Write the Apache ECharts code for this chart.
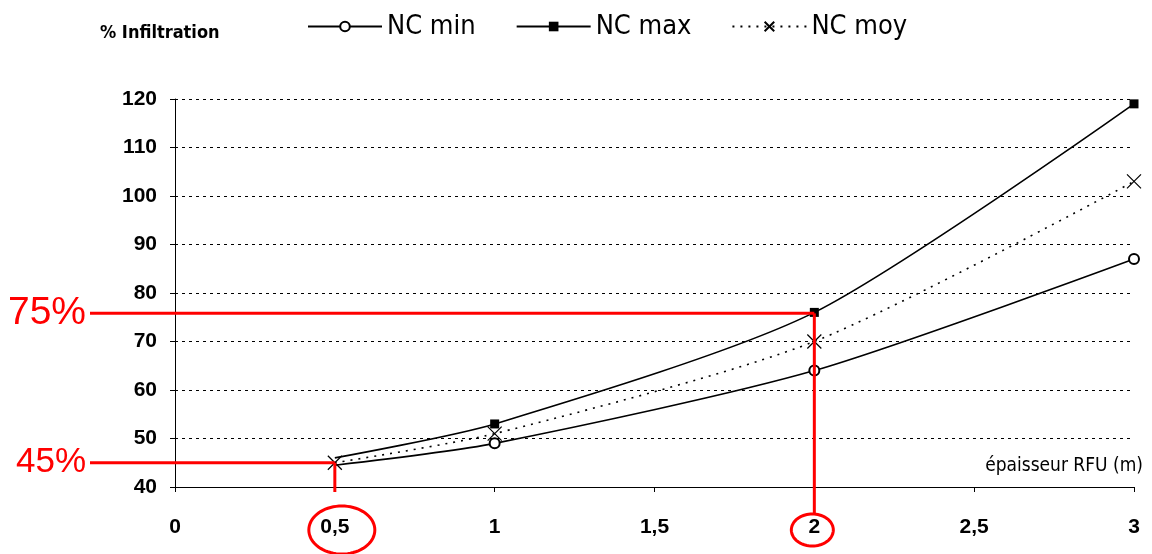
<!DOCTYPE html>
<html>
<head>
<meta charset="utf-8">
<script src="https://cdn.jsdelivr.net/npm/echarts@6/dist/echarts.min.js"></script>
<style>
html,body{margin:0;padding:0;background:#fff;}
#c{width:1152px;height:554px;}
</style>
</head>
<body>
<div id="c"></div>
<script>
// ---- data ----
const xValues = [0.5, 1, 2, 3];
const ncMin = [44.5, 49, 64, 87];
const ncMax = [46, 53, 76, 119];
const ncMoy = [45, 51, 70, 103];
const seriesNames = ['NC min', 'NC max', 'NC moy'];
const yTicks = [40, 50, 60, 70, 80, 90, 100, 110, 120];
const xTicks = [0, 0.5, 1, 1.5, 2, 2.5, 3];
const annotX = [0.5, 2];
const annotY = [45, 75.8];
const annotLabels = ['45%', '75%'];
const yTitle = '% Infiltration';
const xTitle = 'épaisseur RFU (m)';

const FONT = '"DejaVu Sans Condensed","DejaVu Sans",sans-serif';
const chart = echarts.init(document.getElementById('c'));
const toPairs = arr => xValues.map((x, i) => [x, arr[i]]);
// in the reference the first point's marker of NC min / NC max is hidden under the NC moy cross
const toPairsHideFirst = arr => xValues.map((x, i) => (i === 0 ? { value: [x, arr[i]], symbol: 'none' } : [x, arr[i]]));

chart.setOption({
  animation: false,
  backgroundColor: '#fff',
  grid: { left: 175, right: 18, top: 99, bottom: 67, containLabel: false },
  title: [
    { text: yTitle, left: 95, top: 19, textStyle: { fontFamily: FONT, fontSize: 18, fontWeight: 'bold', color: '#000' } },
    { text: xTitle, right: 4, top: 452, textStyle: { fontFamily: FONT, fontSize: 19, fontWeight: 'normal', color: '#000' } }
  ],
  legend: {
    left: 302, top: 8, itemWidth: 74, itemHeight: 12, itemGap: 40,
    textStyle: { fontFamily: FONT, fontSize: 27, color: '#000' },
    data: seriesNames
  },
  xAxis: {
    type: 'value', min: 0, max: 3, interval: 0.5,
    axisLine: { show: true, lineStyle: { color: '#000', width: 1 } },
    axisTick: { show: true, length: 5, lineStyle: { color: '#000' } },
    splitLine: { show: false },
    axisLabel: {
      margin: 30, color: '#000', fontFamily: '"Liberation Sans",Arial,sans-serif', fontSize: 21, fontWeight: 'bold',
      formatter: v => String(v).replace('.', ',')
    }
  },
  yAxis: {
    type: 'value', min: 40, max: 120, interval: 10,
    axisLine: { show: true, lineStyle: { color: '#000', width: 1 } },
    axisTick: { show: true, length: 5, lineStyle: { color: '#000' } },
    splitLine: { show: true, lineStyle: { color: '#000', type: [3, 4], width: 1 } },
    axisLabel: { margin: 18, color: '#000', fontFamily: '"Liberation Sans",Arial,sans-serif', fontSize: 21, fontWeight: 'bold' }
  },
  series: [
    {
      name: seriesNames[0], type: 'line', smooth: 0.25, data: toPairsHideFirst(ncMin),
      symbol: 'emptyCircle', symbolSize: 10,
      lineStyle: { color: '#000', width: 1.6 },
      itemStyle: { color: '#000', borderColor: '#000', borderWidth: 1 }
    },
    {
      name: seriesNames[1], type: 'line', smooth: 0.25, data: toPairsHideFirst(ncMax),
      symbol: 'rect', symbolSize: 9,
      lineStyle: { color: '#000', width: 1.6 },
      itemStyle: { color: '#000' }
    },
    {
      name: seriesNames[2], type: 'line', smooth: 0.25, data: toPairs(ncMoy),
      symbol: 'path://M0,0L10,10M10,0L0,10', symbolSize: 14,
      lineStyle: { color: '#000', width: 1.6, type: [2, 6] },
      itemStyle: { color: 'rgba(0,0,0,0)', borderColor: '#000', borderWidth: 1.2 },
      z: 3
    }
  ]
});

// ---- red annotations, positioned through the chart's own scales ----
function ellipsePts(cx, cy, rx, ry) {
  const pts = [];
  for (let k = 0; k < 72; k++) {
    const a = k / 72 * Math.PI * 2;
    pts.push([cx + rx * Math.cos(a), cy + ry * Math.sin(a)]);
  }
  return pts;
}
const RED = '#ff0000';
const graphics = [];
const ellR = [[33, 24], [21, 16]];
const fontSizes = [35, 39];
annotX.forEach((xv, i) => {
  const p = chart.convertToPixel({ gridIndex: 0 }, [xv, annotY[i]]);
  const base = chart.convertToPixel({ gridIndex: 0 }, [xv, 40]);
  const startX = 90;
  graphics.push({ type: 'line', z: 100, shape: { x1: startX, y1: p[1], x2: p[0], y2: p[1] }, style: { stroke: RED, lineWidth: 3 } });
  const yEnd = i === 0 ? base[1] + 5 : base[1] + 27;
  graphics.push({ type: 'line', z: 100, shape: { x1: p[0], y1: p[1], x2: p[0], y2: yEnd }, style: { stroke: RED, lineWidth: 3 } });
  graphics.push({ type: 'text', z: 100, x: startX - 4, y: p[1], style: { text: annotLabels[i], fill: RED, font: fontSizes[i] + 'px "Liberation Sans",Arial,sans-serif', align: 'right', verticalAlign: 'middle' } });
  const ecx = i === 0 ? p[0] + 7 : p[0] - 2;
  graphics.push({ type: 'polygon', z: 100, shape: { points: ellipsePts(ecx, base[1] + 43, ellR[i][0], ellR[i][1]) }, style: { fill: 'none', stroke: RED, lineWidth: 3 } });
});
chart.setOption({ graphic: graphics });
</script>
</body>
</html>
